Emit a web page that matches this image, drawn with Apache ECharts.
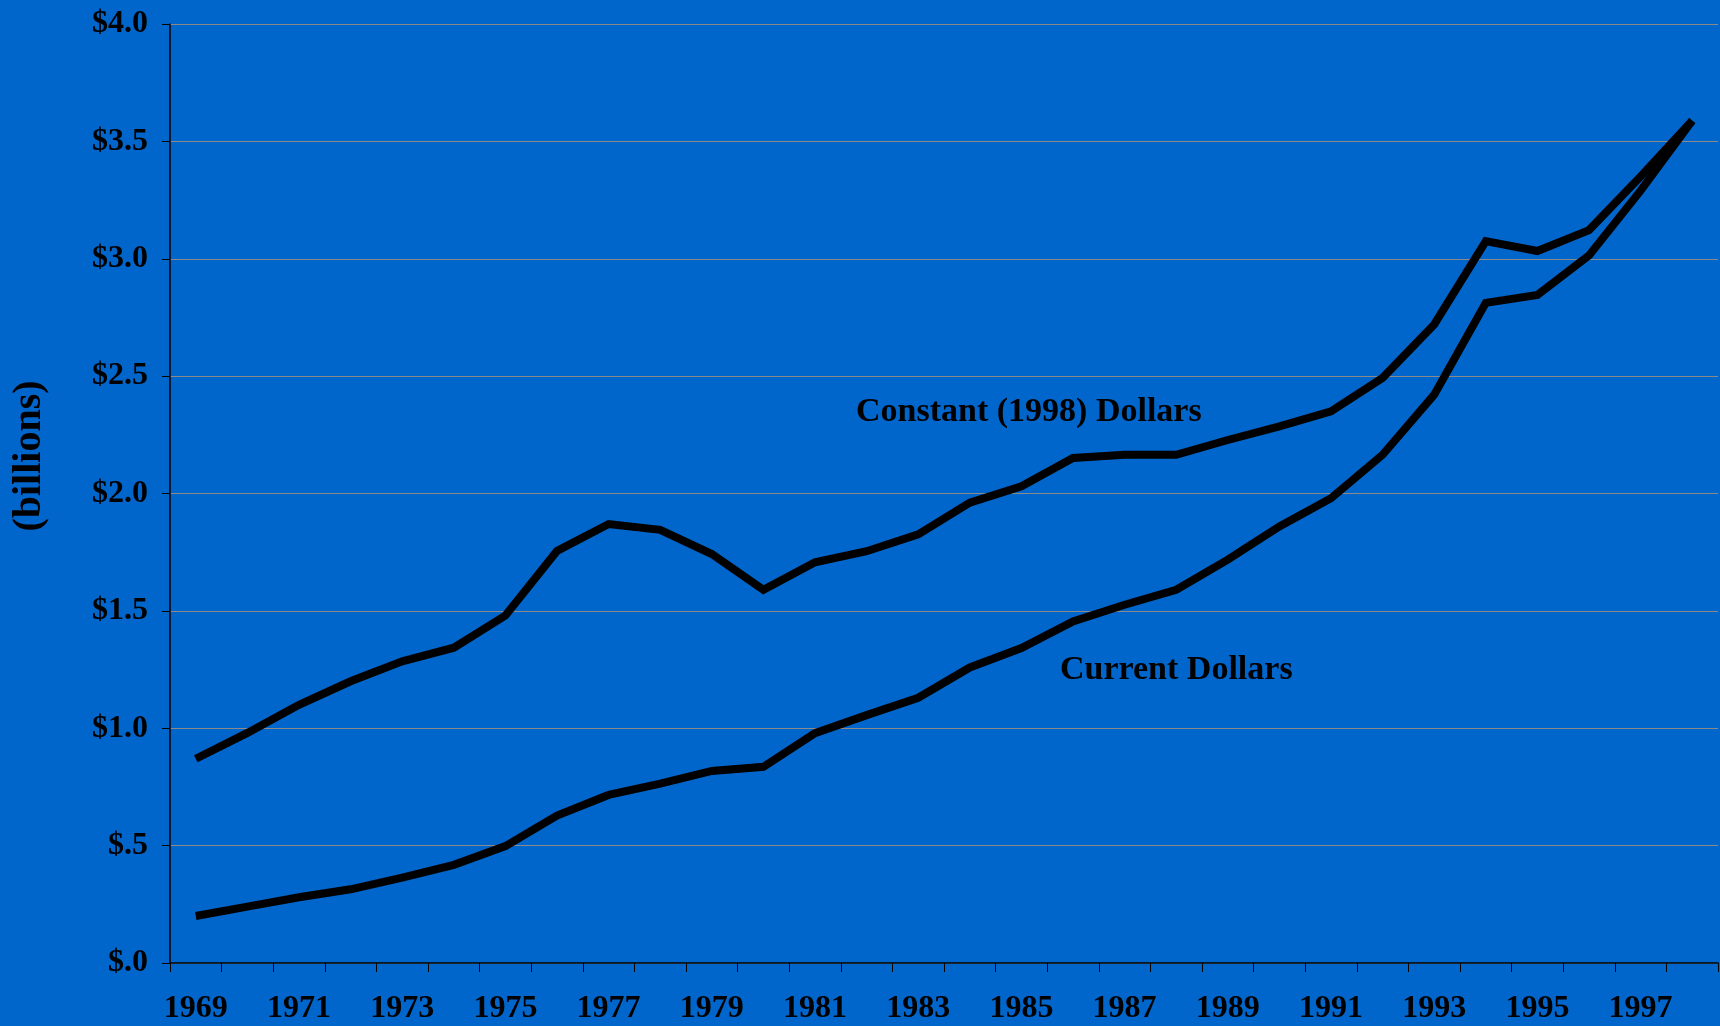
<!DOCTYPE html>
<html>
<head>
<meta charset="utf-8">
<script src="https://cdn.jsdelivr.net/npm/echarts@6/dist/echarts.min.js"></script>
<style>
html,body{margin:0;padding:0;background:#0066CC;}
#chart{width:1720px;height:1026px;}
</style>
</head>
<body>
<div id="chart"></div>
<script>
const years = ['1969','1970','1971','1972','1973','1974','1975','1976','1977','1978','1979','1980','1981','1982','1983','1984','1985','1986','1987','1988','1989','1990','1991','1992','1993','1994','1995','1996','1997','1998'];
const constantDollars = [0.87,0.98,1.10,1.20,1.285,1.343,1.48,1.755,1.87,1.845,1.742,1.59,1.707,1.754,1.826,1.961,2.031,2.151,2.165,2.165,2.228,2.286,2.35,2.493,2.72,3.075,3.033,3.122,3.35,3.588];
const currentDollars = [0.20,0.24,0.28,0.314,0.364,0.418,0.498,0.628,0.716,0.764,0.818,0.836,0.979,1.056,1.13,1.259,1.342,1.455,1.526,1.59,1.718,1.86,1.98,2.165,2.421,2.812,2.846,3.014,3.29,3.588];
const yTickLabels = ['$.0','$.5','$1.0','$1.5','$2.0','$2.5','$3.0','$3.5','$4.0'];
const yAxisTitle = '(billions)';
const seriesLabels = ['Constant (1998) Dollars','Current Dollars'];

const FONT = '"Liberation Serif","Times New Roman",serif';
const chart = echarts.init(document.getElementById('chart'));
const lineStyle = {color:'#000', width:8, cap:'butt', join:'miter'};
chart.setOption({
  backgroundColor:'#0066CC',
  animation:false,
  grid:{left:170, right:2, top:24, bottom:63, containLabel:false},
  xAxis:{
    type:'category',
    data:years,
    boundaryGap:true,
    axisLine:{lineStyle:{color:'#000', width:1.5}},
    axisTick:{show:true, length:9, inside:false, alignWithLabel:false, interval:0, lineStyle:{color:'#000', width:1}},
    axisLabel:{interval:1, margin:30, color:'#000', fontFamily:FONT, fontWeight:'bold', fontSize:32},
    splitLine:{show:false}
  },
  yAxis:{
    type:'value',
    min:0, max:4, interval:0.5,
    axisLine:{show:true, lineStyle:{color:'#000', width:1.5}},
    axisTick:{show:true, length:8, lineStyle:{color:'#000', width:1}},
    axisLabel:{margin:22, color:'#000', fontFamily:FONT, fontWeight:'bold', fontSize:32,
      formatter:function(v){return yTickLabels[Math.round(v/0.5)];}},
    splitLine:{show:true, lineStyle:{color:'#8a8a8a', width:1}}
  },
  series:[
    {name:seriesLabels[0], type:'line', data:constantDollars, symbol:'none', lineStyle:lineStyle, z:3},
    {name:seriesLabels[1], type:'line', data:currentDollars, symbol:'none', lineStyle:lineStyle, z:3}
  ],
  graphic:[
    {type:'text', x:30, y:456, rotation:Math.PI/2, style:{text:yAxisTitle, fill:'#000', font:'bold 40px '+FONT, textAlign:'center', textVerticalAlign:'middle'}},
    {type:'text', x:856, y:412, style:{text:seriesLabels[0], fill:'#000', font:'bold 34px '+FONT, textAlign:'left', textVerticalAlign:'middle'}},
    {type:'text', x:1060, y:670, style:{text:seriesLabels[1], fill:'#000', font:'bold 34px '+FONT, textAlign:'left', textVerticalAlign:'middle'}}
  ]
});
</script>
</body>
</html>
